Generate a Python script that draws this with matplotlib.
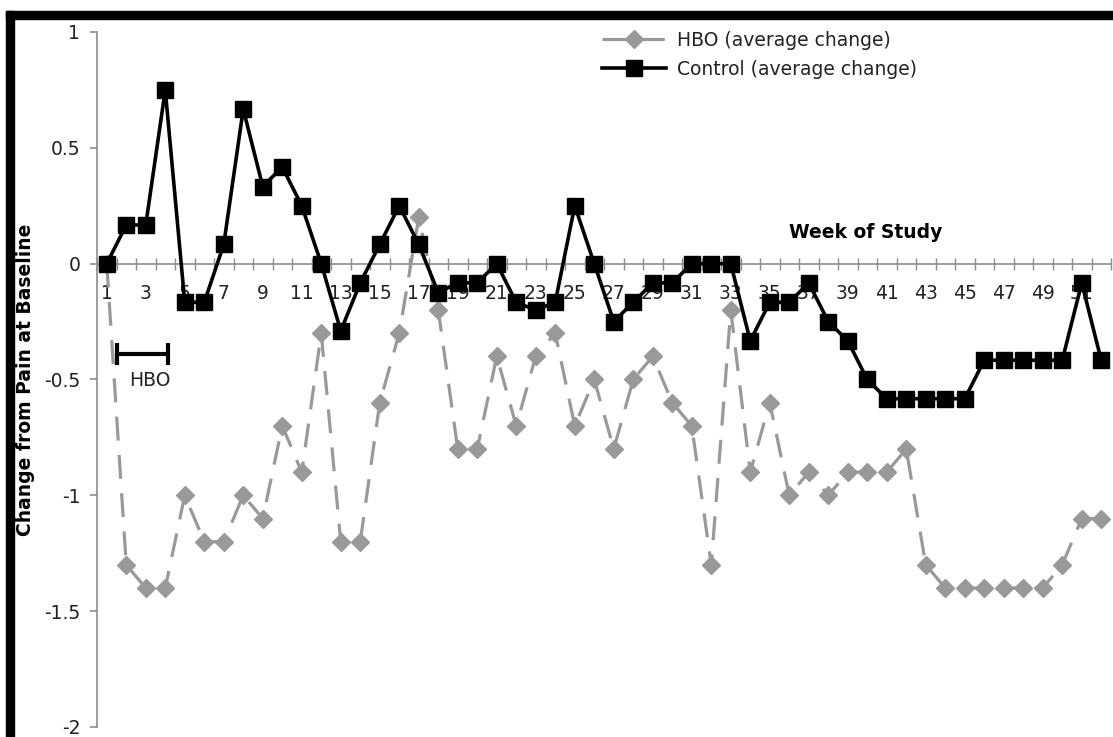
import numpy as np
import matplotlib
matplotlib.use("Agg")
import matplotlib.pyplot as plt
from matplotlib.patches import Rectangle

# weekly average change from baseline pain
weeks = np.arange(1, 53)
hbo = [0, -1.3, -1.4, -1.4, -1.0, -1.2, -1.2, -1.0, -1.1, -0.7,
       -0.9, -0.3, -1.2, -1.2, -0.6, -0.3, 0.2, -0.2, -0.8, -0.8,
       -0.4, -0.7, -0.4, -0.3, -0.7, -0.5, -0.8, -0.5, -0.4, -0.6,
       -0.7, -1.3, -0.2, -0.9, -0.6, -1.0, -0.9, -1.0, -0.9, -0.9,
       -0.9, -0.8, -1.3, -1.4, -1.4, -1.4, -1.4, -1.4, -1.4, -1.3,
       -1.1, -1.1]
control = [0, 0.167, 0.167, 0.75, -0.167, -0.167, 0.083, 0.667, 0.333, 0.417,
           0.25, 0, -0.29, -0.083, 0.083, 0.25, 0.083, -0.125, -0.083, -0.083,
           0, -0.167, -0.2, -0.167, 0.25, 0, -0.25, -0.167, -0.083, -0.083,
           0, 0, 0, -0.333, -0.167, -0.167, -0.083, -0.25, -0.333, -0.5,
           -0.583, -0.583, -0.583, -0.583, -0.583, -0.417, -0.417, -0.417, -0.417, -0.417,
           -0.083, -0.417]
tick_weeks = list(range(1, 52, 2))
y_ticks = [1, 0.5, 0, -0.5, -1, -1.5, -2]

# HBO treatment period bracket (weeks)
hbo_start, hbo_end, hbo_level = 1.5, 4.13, -0.39

W, H = 1113, 737
fs = 13.5
fig = plt.figure(figsize=(W / 100, H / 100), dpi=100)
ax = fig.add_axes([97 / W, 1 - 727 / H, (1111 - 97) / W, (727 - 32) / H])

grey = "#999999"
axis_col = "#8c8c8c"
txt_col = "#222222"

hbo_line, = ax.plot(weeks, hbo, color=grey, lw=2.3, marker="D", markersize=9,
                    markeredgecolor=grey, markerfacecolor=grey, zorder=3,
                    label="HBO (average change)")
hbo_line.set_dashes([7.5, 4.5])
ax.plot(weeks, control, color="black", lw=2.6, marker="s", markersize=12,
        zorder=4, label="Control (average change)")

ax.set_xlim(0.5, 52.5)
ax.set_ylim(-2, 1)

for s in ["top", "right"]:
    ax.spines[s].set_visible(False)
ax.spines["bottom"].set_position(("data", 0))
ax.spines["bottom"].set_color(axis_col)
ax.spines["left"].set_color(axis_col)
ax.spines["left"].set_linewidth(1.2)
ax.spines["bottom"].set_linewidth(1.2)

ax.set_yticks(y_ticks)
ax.set_yticklabels([f"{v:g}" for v in y_ticks])
ax.tick_params(axis="y", direction="out", length=5, width=1.2, color=axis_col,
               labelsize=fs, labelcolor=txt_col, pad=7)
ax.set_xticks(tick_weeks)
ax.set_xticklabels([str(w) for w in tick_weeks])
ax.set_xticks(np.arange(0.5, 53, 1), minor=True)
ax.tick_params(axis="x", which="major", length=0, labelsize=fs,
               labelcolor=txt_col, pad=15)
ax.tick_params(axis="x", which="minor", direction="inout", length=9,
               width=1.0, color=axis_col)

ax.set_ylabel("Change from Pain at Baseline", fontsize=fs, fontweight="bold")
ax.yaxis.set_label_coords(-0.061, 0.5)

ax.text(39.9, 0.135, "Week of Study", fontsize=fs, fontweight="bold",
        ha="center", va="center")

# HBO bracket
ax.errorbar([(hbo_start + hbo_end) / 2], [hbo_level],
            xerr=[(hbo_end - hbo_start) / 2], color="black", lw=3,
            capsize=8, capthick=3, fmt="none", zorder=5)
ax.text(3.2, -0.505, "HBO", fontsize=fs, ha="center", va="center", color=txt_col)

ax.legend(loc="upper left", bbox_to_anchor=(602 / W, 1 - 31 / H),
          bbox_transform=fig.transFigure, frameon=False, fontsize=fs,
          handlelength=3.4, handletextpad=0.6, labelspacing=0.52,
          borderpad=0, borderaxespad=0, labelcolor=txt_col)

# black frame bars from the scanned figure
fig.patches.append(Rectangle((6 / W, 1 - 19 / H), 1 - 6 / W, 8 / H,
                             transform=fig.transFigure, color="black", zorder=10))
fig.patches.append(Rectangle((6 / W, 0), 8 / W, 1 - 11 / H,
                             transform=fig.transFigure, color="black", zorder=10))

fig.savefig("out.png", dpi=100)
